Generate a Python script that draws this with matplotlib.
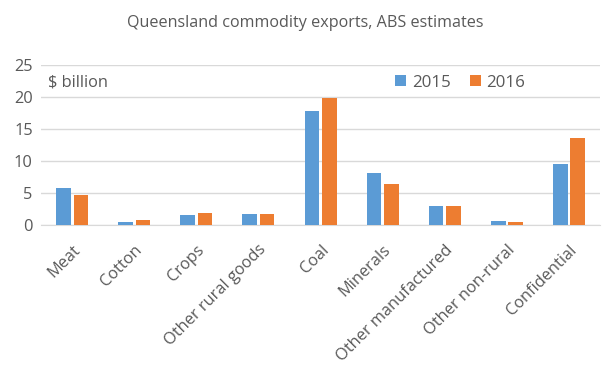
import numpy as np
import matplotlib.pyplot as plt

categories = ['Meat', 'Cotton', 'Crops', 'Other rural goods', 'Coal', 'Minerals',
              'Other manufactured', 'Other non-rural', 'Confidential']
y2015 = [5.8, 0.5, 1.6, 1.7, 17.8, 8.1, 3.0, 0.6, 9.5]
y2016 = [4.7, 0.8, 1.9, 1.7, 19.8, 6.4, 3.0, 0.5, 13.6]
yticks = [0, 5, 10, 15, 20, 25]

blue = '#5b9bd5'
orange = '#ed7d31'
grey = '#595959'

plt.rcParams['font.family'] = ['Open Sans', 'DejaVu Sans']

fig = plt.figure(figsize=(6.13, 3.79), dpi=100)
ax = fig.add_axes([0.067, 0.406, 0.912, 0.4225])

x = np.arange(len(categories))
w = 0.235
ax.bar(x - 0.14, y2015, w, color=blue, label='2015', zorder=3)
ax.bar(x + 0.14, y2016, w, color=orange, label='2016', zorder=3)

ax.set_xlim(-0.5, len(categories) - 0.5)
ax.set_ylim(0, 25)
ax.set_yticks(yticks)
ax.yaxis.grid(True, color='#d9d9d9', linewidth=1, zorder=0)
for s in ['top', 'right', 'left']:
    ax.spines[s].set_visible(False)
ax.spines['bottom'].set_color('#d9d9d9')
ax.tick_params(axis='both', length=0, labelsize=11.8, labelcolor=grey)
ax.tick_params(axis='y', pad=6)
ax.set_xticks(x)
ax.set_xticklabels(categories, rotation=45, ha='right', rotation_mode='anchor')
ax.tick_params(axis='x', pad=12)

ax.text(0.012, 0.89, '$ billion', transform=ax.transAxes, fontsize=11.8,
        color=grey, va='center', ha='left')
ax.legend(loc='center', bbox_to_anchor=(0.75, 0.89), ncol=2, frameon=False,
          fontsize=12.2, labelcolor=grey, handlelength=0.65, handleheight=0.65,
          columnspacing=1.1, handletextpad=0.35, borderpad=0)

fig.text(0.498, 0.938, 'Queensland commodity exports, ABS estimates',
         ha='center', va='center', fontsize=11.6, color=grey)

fig.savefig('out.png', dpi=100)
